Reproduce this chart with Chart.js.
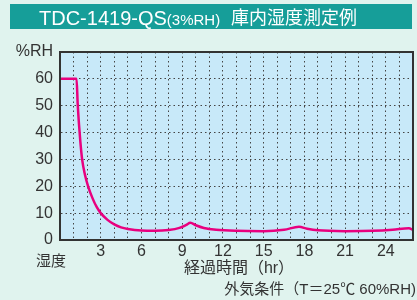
<!DOCTYPE html>
<html>
<head>
<meta charset="utf-8">
<script src="https://cdn.jsdelivr.net/npm/chart.js@4/dist/chart.umd.min.js"></script>
<style>
  body { margin: 0; background: #e0f3ee; }
  canvas { display: block; }
</style>
</head>
<body>
<canvas id="humChart" width="417" height="300"></canvas>
<script>
// elapsed time (hr) and humidity inside the cabinet (%RH)
const hours = [0, 1.22, 1.3, 1.4, 1.5, 1.63, 1.83, 2.07, 2.4, 2.7, 3.0, 3.5, 4, 4.5, 5, 6, 7, 8, 8.8, 9.3, 9.6, 10, 10.6, 11.5, 13, 15, 16.5, 17.6, 18.2, 19, 21, 23, 24.5, 25.7, 26];
const humidity = [60, 60, 51, 43, 36.5, 30, 24.5, 20, 15.5, 12.3, 10, 7.5, 5.8, 4.7, 4.1, 3.5, 3.4, 3.7, 4.5, 5.6, 6.4, 5.5, 4.5, 3.8, 3.4, 3.3, 3.8, 4.9, 4.2, 3.6, 3.3, 3.4, 3.8, 4.4, 3.7];
const xTickLabels = [3, 6, 9, 12, 15, 18, 21, 24];
const yTickLabels = [0, 10, 20, 30, 40, 50, 60];

const ctx = document.getElementById('humChart');

const decor = {
    id: 'decor',
    beforeDraw(chart) {
        const c = chart.ctx;
        const a = chart.chartArea;
        c.save();
        c.fillStyle = '#e0f3ee';
        c.fillRect(0, 0, 417, 300);
        // title bar
        c.fillStyle = '#169e99';
        c.fillRect(10, 4, 402, 25);
        c.fillStyle = '#ffffff';
        c.textBaseline = 'alphabetic';
        c.font = '20px "Liberation Sans"';
        c.fillText('TDC-1419-QS', 39, 24.5);
        const w = c.measureText('TDC-1419-QS').width;
        c.font = '15px "Liberation Sans"';
        c.fillText('(3%RH)', 39 + w, 24.5);
        c.textBaseline = 'middle';
        c.font = '18px "Noto Sans CJK JP"';
        c.fillText('庫内湿度測定例', 231, 17.5);
        // plot background
        c.fillStyle = '#c8e9f9';
        c.fillRect(a.left, a.top, a.right - a.left, a.bottom - a.top);
        c.restore();
    },
    afterDraw(chart) {
        const c = chart.ctx;
        const a = chart.chartArea;
        c.save();
        c.strokeStyle = '#333';
        c.lineWidth = 2;
        c.strokeRect(a.left, a.top, a.right - a.left, a.bottom - a.top);
        c.fillStyle = '#333';
        c.textBaseline = 'middle';
        c.font = '15px "Noto Sans CJK JP"';
        c.textAlign = 'left';
        c.fillText('湿度', 36, 260);
        c.font = '16px "Liberation Sans", "Noto Sans CJK JP"';
        c.textAlign = 'center';
        c.fillText('経過時間（hr）', 239, 269);
        c.font = '15px "Liberation Sans", "Noto Sans CJK JP"';
        c.textAlign = 'right';
        c.fillText('外気条件（T＝25℃ 60%RH)', 416, 290);
        c.restore();
    }
};

const chart = new Chart(ctx, {
    type: 'line',
    data: {
        datasets: [{
            data: hours.map((h, i) => ({ x: h, y: humidity[i] })),
            borderColor: '#e8007f',
            borderWidth: 2.5,
            pointRadius: 0,
            cubicInterpolationMode: 'monotone',
            fill: false
        }]
    },
    plugins: [decor],
    options: {
        responsive: false,
        animation: false,
        layout: { padding: { top: 52, right: 4, left: 0, bottom: 0 } },
        plugins: {
            legend: { display: false },
            tooltip: { enabled: false }
        },
        scales: {
            x: {
                type: 'linear',
                min: 0,
                max: 26,
                afterFit: s => { s.height = 60; },
                ticks: {
                    stepSize: 1,
                    autoSkip: false,
                    maxRotation: 0,
                    padding: 2,
                    color: '#333',
                    font: { family: '"Liberation Sans"', size: 16 },
                    callback: v => xTickLabels.includes(v) ? String(v) : ''
                },
                grid: { color: '#444', lineWidth: 1, drawTicks: false },
                border: { color: '#333', width: 2, dash: [1.5, 3] }
            },
            y: {
                min: 0,
                max: 70,
                afterFit: s => { s.width = 60; },
                ticks: {
                    stepSize: 10,
                    padding: 7,
                    color: '#333',
                    font: { family: '"Liberation Sans"', size: 16 },
                    callback: v => v === 70 ? '%RH' : (yTickLabels.includes(v) ? String(v) : '')
                },
                grid: { color: '#444', lineWidth: 1, drawTicks: false },
                border: { color: '#333', width: 2, dash: [1.5, 3] }
            }
        }
    }
});
</script>
</body>
</html>
